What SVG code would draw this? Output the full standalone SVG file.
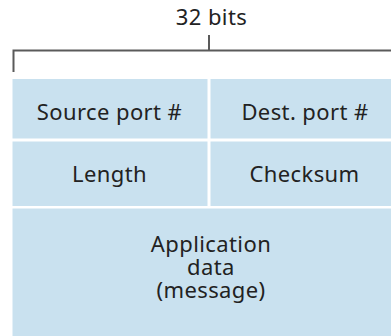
<svg xmlns="http://www.w3.org/2000/svg" width="391" height="336" viewBox="0 0 391 336">
<style>
.cell{fill:#c9e1ef}
.t{font-family:"Noto Sans","Open Sans",sans-serif;font-size:22px;letter-spacing:0.4px;fill:#222222;text-anchor:middle}
.br{stroke:#5a5a5a;stroke-width:2;fill:none}
</style>
<rect width="391" height="336" fill="#ffffff"/>
<g id="label-32bits">
<text class="t" x="211.5" y="25">32 bits</text>
</g>
<g id="connectors">
<path class="br" d="M13.5,72 V50.5 H391 M209,35 V50.5"/>
</g>
<g id="source-port">
<rect class="cell" x="12.5" y="79" width="195" height="59.5"/>
<text class="t" x="109.5" y="120">Source port #</text>
</g>
<g id="dest-port">
<rect class="cell" x="210.5" y="79" width="180.5" height="59.5"/>
<text class="t" x="305" y="120">Dest. port #</text>
</g>
<g id="length">
<rect class="cell" x="12.5" y="141.5" width="195" height="64.5"/>
<text class="t" x="109.5" y="182">Length</text>
</g>
<g id="checksum">
<rect class="cell" x="210.5" y="141.5" width="180.5" height="64.5"/>
<text class="t" x="304.5" y="182">Checksum</text>
</g>
<g id="app-data">
<rect class="cell" x="12.5" y="208.5" width="378.5" height="127.5"/>
<text class="t" x="211" y="252">Application</text>
<text class="t" x="211" y="275">data</text>
<text class="t" x="211" y="298">(message)</text>
</g>
</svg>
